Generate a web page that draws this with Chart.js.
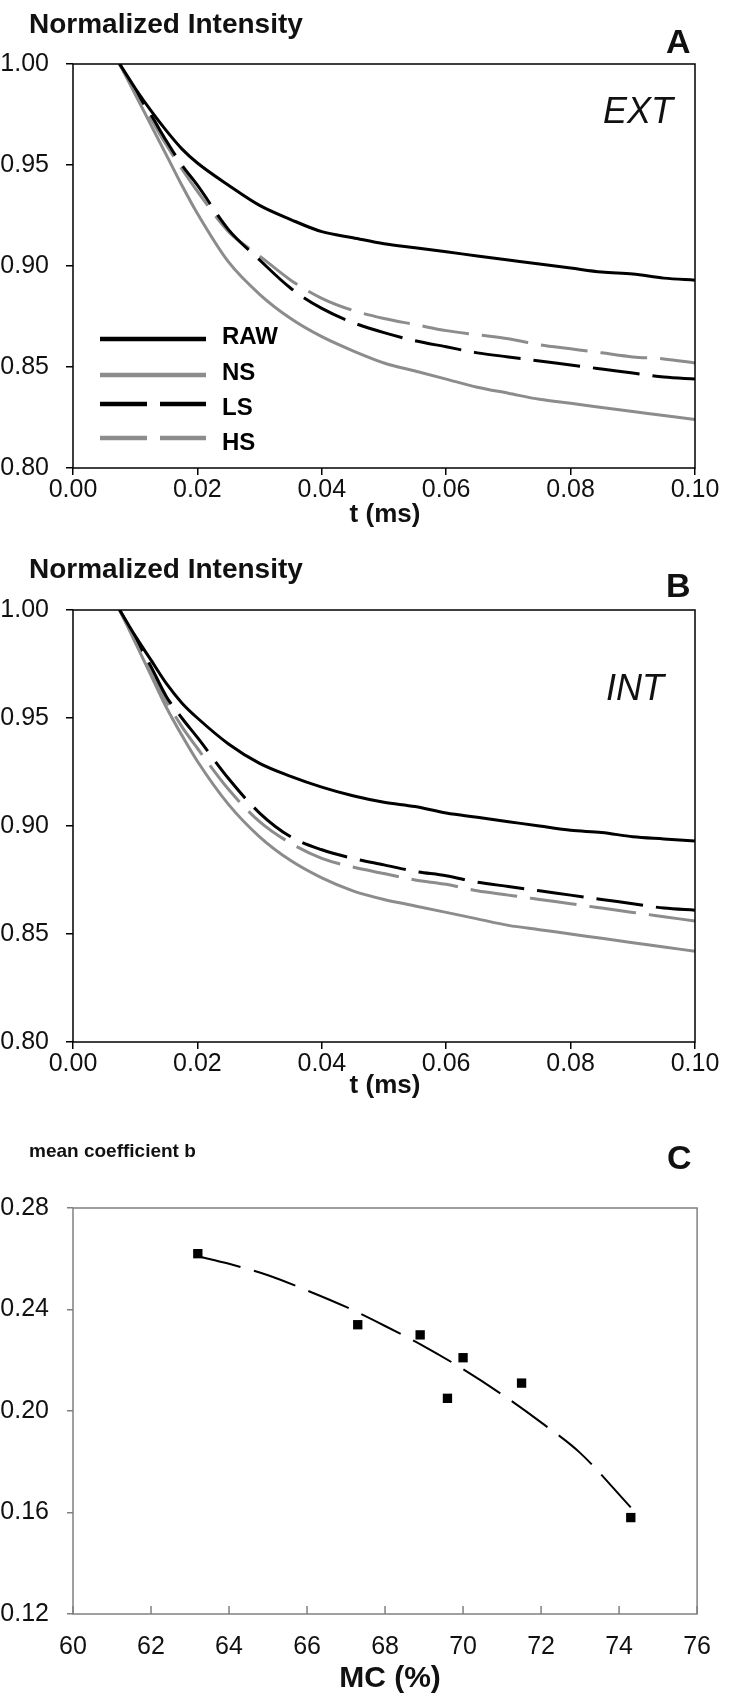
<!DOCTYPE html>
<html>
<head>
<meta charset="utf-8">
<script src="https://cdn.jsdelivr.net/npm/chart.js@4.4.0/dist/chart.umd.min.js"></script>
<style>
  body { margin: 0; background: #fff; width: 729px; height: 1699px; position: relative; overflow: hidden;
         font-family: "Liberation Sans", Arial, sans-serif; }
  .panel { position: absolute; left: 0; width: 729px; }
  .txt { position: absolute; white-space: nowrap; color: #111; line-height: 1; transform: translateY(-50%); }
  .mid { transform: translate(-50%, -50%); }
  .b { font-weight: bold; }
</style>
</head>
<body>

<div class="panel" style="top:0;height:540px"><canvas id="chartA"></canvas></div>
<div class="panel" style="top:546px;height:568px"><canvas id="chartB"></canvas></div>
<div class="panel" style="top:1120px;height:579px"><canvas id="chartC"></canvas></div>

<div class="txt b" style="left:29px;top:24px;font-size:28px">Normalized Intensity</div>
<div class="txt b" style="left:666px;top:41px;font-size:34px">A</div>
<div class="txt" style="left:603px;top:111px;font-size:36px;font-style:italic">EXT</div>
<div class="txt b mid" style="left:385px;top:513px;font-size:26px">t (ms)</div>

<div class="txt b" style="left:29px;top:569px;font-size:28px">Normalized Intensity</div>
<div class="txt b" style="left:666px;top:585px;font-size:34px">B</div>
<div class="txt" style="left:606px;top:688px;font-size:36px;font-style:italic">INT</div>
<div class="txt b mid" style="left:385px;top:1084px;font-size:26px">t (ms)</div>

<div class="txt b" style="left:29px;top:1150px;font-size:19px">mean coefficient b</div>
<div class="txt b" style="left:667px;top:1157px;font-size:34px">C</div>
<div class="txt b mid" style="left:390px;top:1677px;font-size:30px">MC (%)</div>

<script>
// time axis (ms) shared by panels A and B
const tValues = [0.0075, 0.01, 0.0125, 0.015, 0.0175, 0.02, 0.025, 0.03, 0.035, 0.04, 0.045,
                 0.05, 0.055, 0.06, 0.065, 0.07, 0.075, 0.08, 0.085, 0.09, 0.095, 0.10];

// panel A - EXT
const extRaw = [1.000, 0.988, 0.977, 0.967, 0.958, 0.951, 0.940, 0.930, 0.923, 0.917, 0.914,
                0.911, 0.909, 0.907, 0.905, 0.903, 0.901, 0.899, 0.897, 0.896, 0.894, 0.893];
const extNs  = [1.000, 0.985, 0.970, 0.955, 0.940, 0.926, 0.902, 0.886, 0.874, 0.865, 0.858,
                0.852, 0.848, 0.844, 0.840, 0.837, 0.834, 0.832, 0.830, 0.828, 0.826, 0.824];
const extLs  = [1.000, 0.987, 0.975, 0.962, 0.950, 0.940, 0.918, 0.903, 0.889, 0.879, 0.872,
                0.867, 0.863, 0.860, 0.857, 0.855, 0.853, 0.851, 0.849, 0.847, 0.845, 0.844];
const extHs  = [1.000, 0.986, 0.973, 0.960, 0.948, 0.937, 0.917, 0.905, 0.893, 0.884, 0.878,
                0.874, 0.871, 0.868, 0.866, 0.864, 0.861, 0.859, 0.857, 0.855, 0.854, 0.852];

// panel B - INT
const intRaw = [1.000, 0.988, 0.977, 0.966, 0.957, 0.950, 0.938, 0.929, 0.923, 0.918, 0.914,
                0.911, 0.909, 0.906, 0.904, 0.902, 0.900, 0.898, 0.897, 0.895, 0.894, 0.893];
const intNs  = [1.000, 0.985, 0.970, 0.955, 0.942, 0.930, 0.910, 0.895, 0.884, 0.876, 0.870,
                0.866, 0.863, 0.860, 0.857, 0.854, 0.852, 0.850, 0.848, 0.846, 0.844, 0.842];
const intLs  = [1.000, 0.987, 0.974, 0.960, 0.950, 0.941, 0.922, 0.906, 0.895, 0.889, 0.885,
                0.882, 0.879, 0.877, 0.874, 0.872, 0.870, 0.868, 0.866, 0.864, 0.862, 0.861];
const intHs  = [1.000, 0.986, 0.972, 0.958, 0.946, 0.936, 0.917, 0.902, 0.892, 0.885, 0.881,
                0.878, 0.875, 0.873, 0.870, 0.868, 0.866, 0.864, 0.862, 0.860, 0.858, 0.856];

// panel C - mean coefficient b vs MC
const mcValues = [63.2, 67.3, 68.9, 69.6, 70.0, 71.5, 74.3];
const bValues  = [0.262, 0.234, 0.230, 0.205, 0.221, 0.211, 0.158];
const trendMc  = [63.2, 64, 65, 66, 67, 68, 69, 70, 71, 72, 73, 74.3];
const trendB   = [0.261, 0.258, 0.2535, 0.2475, 0.241, 0.2335, 0.2255, 0.2165, 0.2065, 0.1955, 0.1835, 0.162];

// tick labels
const intensityTicks = [0.80, 0.85, 0.90, 0.95, 1.00];
const timeTicks = [0.00, 0.02, 0.04, 0.06, 0.08, 0.10];
const bTicks = [0.12, 0.16, 0.20, 0.24, 0.28];
const mcTicks = [60, 62, 64, 66, 68, 70, 72, 74, 76];

const seriesNames = ['RAW', 'NS', 'LS', 'HS'];

const BLACK = '#000000';
const GREY = '#8c8c8c';
const DASH = [47, 13];
const FONT = '"Liberation Sans", Arial, sans-serif';
const TICK_SIZE = 25;

Chart.defaults.font.family = FONT;
Chart.defaults.color = '#111';

const toPoints = (xs, ys) => xs.map((x, i) => ({ x: x, y: ys[i] }));

// box round the plot area
const framePlugin = {
  id: 'frame',
  afterDatasetsDraw(chart, args, opts) {
    const { ctx, chartArea: a } = chart;
    ctx.save();
    ctx.strokeStyle = opts.color || BLACK;
    ctx.lineWidth = opts.width || 1.5;
    ctx.strokeRect(a.left, a.top, a.right - a.left, a.bottom - a.top);
    ctx.restore();
  }
};

// short tick marks pointing into the plot (panel C x axis)
const innerTicks = {
  id: 'innerTicks',
  afterDatasetsDraw(chart, args, opts) {
    if (!opts.axis) return;
    const s = chart.scales[opts.axis];
    const ctx = chart.ctx;
    ctx.save();
    ctx.strokeStyle = opts.color;
    ctx.lineWidth = 1.5;
    ctx.beginPath();
    s.ticks.forEach(t => {
      const x = s.getPixelForValue(t.value);
      ctx.moveTo(x, chart.chartArea.bottom);
      ctx.lineTo(x, chart.chartArea.bottom - opts.length);
    });
    ctx.stroke();
    ctx.restore();
  }
};

// legend drawn inside the plot of panel A
const lineKey = {
  id: 'lineKey',
  afterDraw(chart, args, opts) {
    if (!opts.rows) return;
    const ctx = chart.ctx;
    chart.data.datasets.forEach((ds, i) => {
      const y = opts.rows[i];
      ctx.save();
      ctx.strokeStyle = ds.borderColor;
      ctx.lineWidth = opts.lineWidth;
      ctx.setLineDash(ds.borderDash || []);
      ctx.beginPath();
      ctx.moveTo(opts.x0, y);
      ctx.lineTo(opts.x1, y);
      ctx.stroke();
      ctx.fillStyle = '#000';
      ctx.font = 'bold 24px ' + FONT;
      ctx.textBaseline = 'middle';
      ctx.fillText(ds.label, opts.textX, opts.labelRows[i]);
      ctx.restore();
    });
  }
};

function curveSet(label, ys, color, dashed) {
  return {
    label: label,
    data: toPoints(tValues, ys),
    borderColor: color,
    borderWidth: 3,
    borderDash: dashed ? DASH : [],
    pointRadius: 0,
    cubicInterpolationMode: 'monotone',
    fill: false
  };
}

function decayChart(id, raw, ns, ls, hs, withKey) {
  return new Chart(document.getElementById(id), {
    type: 'line',
    data: {
      datasets: [
        curveSet(seriesNames[0], raw, BLACK, false),
        curveSet(seriesNames[1], ns, GREY, false),
        curveSet(seriesNames[2], ls, BLACK, true),
        curveSet(seriesNames[3], hs, GREY, true)
      ]
    },
    options: {
      responsive: true,
      maintainAspectRatio: false,
      animation: false,
      devicePixelRatio: 1,
      layout: { padding: { top: 64, right: 34, left: 0, bottom: 0 } },
      plugins: {
        legend: { display: false },
        tooltip: { enabled: false },
        frame: { color: BLACK, width: 1.5 },
        lineKey: withKey ? {
          rows: [339, 375, 404, 438], labelRows: [337, 373, 408, 443],
          x0: 100, x1: 206, textX: 222, lineWidth: 4.5
        } : {}
      },
      scales: {
        x: {
          type: 'linear',
          min: 0, max: 0.10,
          afterBuildTicks: s => { s.ticks = timeTicks.map(v => ({ value: v })); },
          afterFit: s => { s.height = 72; },
          ticks: { font: { size: TICK_SIZE }, padding: 0, maxRotation: 0, callback: v => v.toFixed(2) },
          grid: { display: true, drawOnChartArea: false, drawTicks: true, tickLength: 7, color: BLACK, lineWidth: 1.5 },
          border: { display: false }
        },
        y: {
          type: 'linear',
          min: 0.80, max: 1.00,
          afterBuildTicks: s => { s.ticks = intensityTicks.map(v => ({ value: v })); },
          afterFit: s => { s.width = 73; },
          ticks: { font: { size: TICK_SIZE }, padding: 17, callback: v => v.toFixed(2) },
          grid: { display: true, drawOnChartArea: false, drawTicks: true, tickLength: 7, color: BLACK, lineWidth: 1.5 },
          border: { display: false }
        }
      }
    },
    plugins: [framePlugin, lineKey]
  });
}

decayChart('chartA', extRaw, extNs, extLs, extHs, true);
decayChart('chartB', intRaw, intNs, intLs, intHs, false);

new Chart(document.getElementById('chartC'), {
  type: 'scatter',
  data: {
    datasets: [
      {
        label: 'mean coefficient b',
        data: toPoints(mcValues, bValues),
        pointStyle: 'rect',
        pointRadius: 6.6,
        backgroundColor: BLACK,
        borderColor: BLACK,
        borderWidth: 0,
        showLine: false
      },
      {
        label: 'trend',
        type: 'line',
        data: toPoints(trendMc, trendB),
        borderColor: BLACK,
        borderWidth: 2,
        borderDash: [44, 14],
        pointRadius: 0,
        cubicInterpolationMode: 'monotone',
        fill: false
      }
    ]
  },
  options: {
    responsive: true,
    maintainAspectRatio: false,
    animation: false,
    devicePixelRatio: 1,
    layout: { padding: { top: 88, right: 22, left: 0, bottom: 0 } },
    plugins: {
      legend: { display: false },
      tooltip: { enabled: false },
      frame: { color: '#808080', width: 1.5 },
      innerTicks: { axis: 'x', length: 8, color: '#808080' }
    },
    scales: {
      x: {
        type: 'linear',
        min: 60, max: 76,
        afterBuildTicks: s => { s.ticks = mcTicks.map(v => ({ value: v })); },
        afterFit: s => { s.height = 85; },
        ticks: { font: { size: TICK_SIZE }, padding: 18, maxRotation: 0, callback: v => String(v) },
        grid: { display: true, drawOnChartArea: false, drawTicks: false, color: '#808080' },
        border: { display: false }
      },
      y: {
        type: 'linear',
        min: 0.12, max: 0.28,
        afterBuildTicks: s => { s.ticks = bTicks.map(v => ({ value: v })); },
        afterFit: s => { s.width = 73; },
        ticks: { font: { size: TICK_SIZE }, padding: 18, callback: v => v.toFixed(2) },
        grid: { display: true, drawOnChartArea: false, drawTicks: true, tickLength: 6, color: '#808080', lineWidth: 1.5 },
        border: { display: false }
      }
    }
  },
  plugins: [framePlugin, innerTicks]
});
</script>
</body>
</html>
